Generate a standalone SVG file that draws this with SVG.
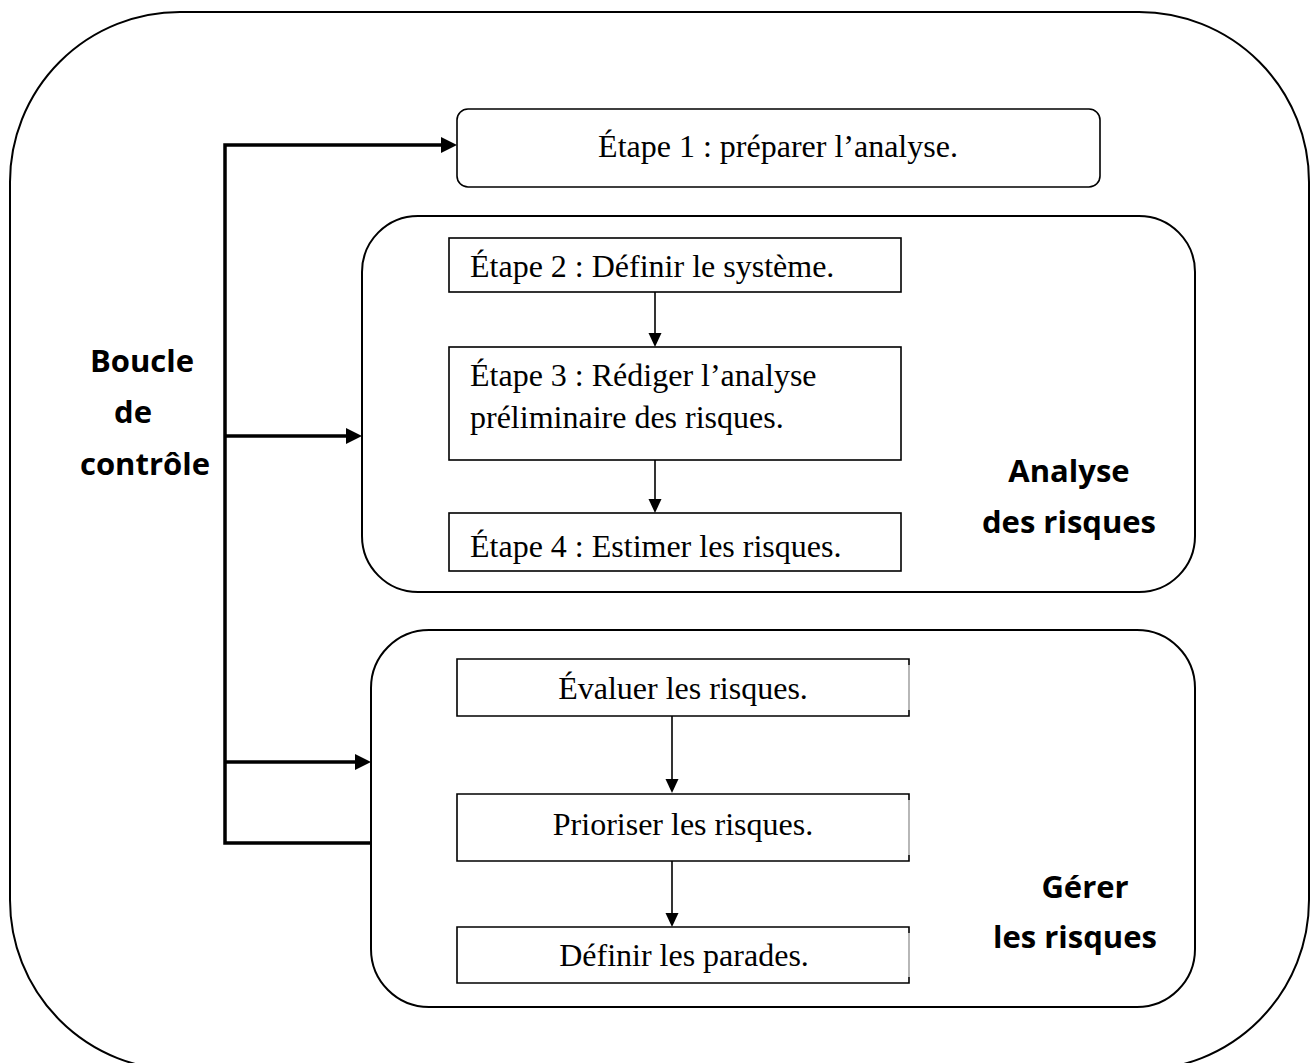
<svg xmlns="http://www.w3.org/2000/svg" width="1310" height="1063" viewBox="0 0 1310 1063">
  <defs>
    <style>
      .frame { fill: none; stroke: #000; stroke-width: 2; }
      .group { fill: #fff; stroke: #000; stroke-width: 2; }
      .box { fill: #fff; stroke: #000; stroke-width: 1.6; }
      .edge { fill: none; stroke: #000; stroke-width: 1.6; }
      .edge-soft { fill: none; stroke: #a6a6a6; stroke-width: 1.6; }
      .loop { fill: none; stroke: #000; stroke-width: 3.5; stroke-linejoin: miter; }
      .flow { fill: none; stroke: #000; stroke-width: 1.6; }
      .serif { font-family: "Liberation Serif", "Times New Roman", serif; font-size: 32px; fill: #000; }
      .label { font-family: "Open Sans", "Liberation Sans", sans-serif; font-weight: 700; font-size: 31px; fill: #000; text-anchor: middle; }
      .mid { text-anchor: middle; }
    </style>
    <marker id="headBig" markerUnits="userSpaceOnUse" markerWidth="16" markerHeight="16" viewBox="0 0 16 16" refX="0" refY="8" orient="auto">
      <path d="M0,0 L16,8 L0,16 Z" fill="#000"/>
    </marker>
    <marker id="headSmall" markerUnits="userSpaceOnUse" markerWidth="14" markerHeight="14" viewBox="0 0 14 14" refX="0" refY="7" orient="auto">
      <path d="M0,0.5 L14,7 L0,13.5 Z" fill="#000"/>
    </marker>
  </defs>

  <rect width="1310" height="1063" fill="#fff"/>

  <!-- outer rounded frame -->
  <g id="frame">
    <rect class="frame" x="10" y="12" width="1299" height="1058" rx="170" ry="170"/>
  </g>

  <!-- control loop label -->
  <g id="label-boucle">
    <text class="label" x="142" y="372">Boucle</text>
    <text class="label" x="133" y="423">de</text>
    <text class="label" x="145" y="475">contrôle</text>
  </g>

  <!-- step 1 -->
  <g id="step1">
    <rect class="box" x="457" y="109" width="643" height="78" rx="11" ry="11"/>
    <text class="serif mid" x="778" y="157">Étape 1 : préparer l’analyse.</text>
  </g>

  <!-- risk analysis group -->
  <g id="analyse">
    <rect class="group" x="362" y="216" width="833" height="376" rx="56" ry="56"/>
    <text class="label" x="1069" y="482">Analyse</text>
    <text class="label" x="1069" y="533">des risques</text>
  </g>

  <g id="step2">
    <rect class="box" x="449" y="238" width="452" height="54"/>
    <text class="serif" x="470" y="277">Étape 2 : Définir le système.</text>
  </g>

  <g id="step3">
    <rect class="box" x="449" y="347" width="452" height="113"/>
    <text class="serif" x="470" y="386">Étape 3 : Rédiger l’analyse</text>
    <text class="serif" x="470" y="428">préliminaire des risques.</text>
  </g>

  <g id="step4">
    <rect class="box" x="449" y="513" width="452" height="58"/>
    <text class="serif" x="470" y="557">Étape 4 : Estimer les risques.</text>
  </g>

  <!-- risk management group -->
  <g id="gerer">
    <rect class="group" x="371" y="630" width="824" height="377" rx="58" ry="58"/>
    <text class="label" x="1085" y="898">Gérer</text>
    <text class="label" x="1075" y="948">les risques</text>
  </g>

  <g id="evaluer">
    <rect x="457" y="659" width="452" height="57" fill="#fff"/>
    <path class="edge" d="M909,665 V659 H457 V716 H909 V710"/>
    <path class="edge-soft" d="M909,665 V710"/>
    <text class="serif mid" x="683" y="699">Évaluer les risques.</text>
  </g>

  <g id="prioriser">
    <rect x="457" y="794" width="452" height="67" fill="#fff"/>
    <path class="edge" d="M909,800 V794 H457 V861 H909 V855"/>
    <path class="edge-soft" d="M909,800 V855"/>
    <text class="serif mid" x="683" y="835">Prioriser les risques.</text>
  </g>

  <g id="parades">
    <rect x="457" y="927" width="452" height="56" fill="#fff"/>
    <path class="edge" d="M909,933 V927 H457 V983 H909 V977"/>
    <path class="edge-soft" d="M909,933 V977"/>
    <text class="serif mid" x="684" y="966">Définir les parades.</text>
  </g>

  <!-- connectors -->
  <g id="connectors">
    <path class="loop" d="M371,843 H225 V145 H441" marker-end="url(#headBig)"/>
    <path class="loop" d="M225,436 H346" marker-end="url(#headBig)"/>
    <path class="loop" d="M225,762 H355" marker-end="url(#headBig)"/>
    <path class="flow" d="M655,292 V333" marker-end="url(#headSmall)"/>
    <path class="flow" d="M655,460 V499" marker-end="url(#headSmall)"/>
    <path class="flow" d="M672,716 V779" marker-end="url(#headSmall)"/>
    <path class="flow" d="M672,861 V913" marker-end="url(#headSmall)"/>
  </g>
</svg>
